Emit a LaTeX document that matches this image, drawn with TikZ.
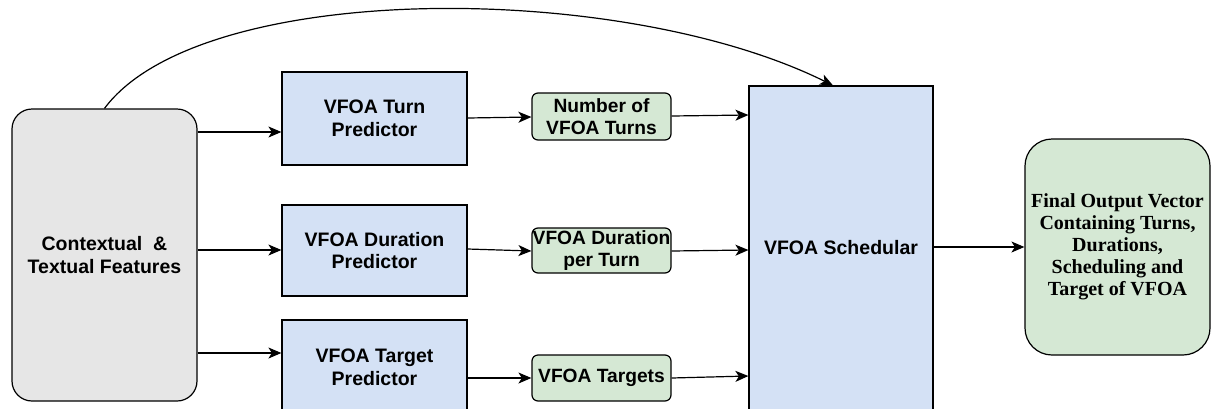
\documentclass[tikz,border=0pt]{standalone}
\usepackage{fontspec}
\setmainfont{Liberation Sans}
\newfontfamily\serifbf{Liberation Serif}
\usetikzlibrary{arrows.meta}
\definecolor{bluefill}{HTML}{D4E1F5}
\definecolor{greenfill}{HTML}{D5E8D4}
\definecolor{grayfill}{HTML}{E6E6E6}
\begin{document}
\begin{tikzpicture}[x=1pt,y=-1pt,
  box/.style={draw=black, line width=1.2pt, inner sep=0pt, align=center,
    font=\bfseries\fontsize{19.5}{22.7}\selectfont},
  predbox/.style={box, fill=bluefill, minimum width=185pt},
  outbox/.style={box, fill=greenfill, rounded corners=6pt, minimum width=139pt,
    font=\bfseries\fontsize{19.2}{22}\selectfont},
  arr/.style={line width=1.2pt, -{Stealth[length=13pt,width=11pt,inset=3.5pt]}}
]
\useasboundingbox (0,0) rectangle (1213,408);

\node[box, fill=grayfill, rounded corners=20pt, minimum width=185pt, minimum height=292pt]
  (ctx) at (104.5,255) {Contextual\ \ \&\\Textual Features};

\node[predbox, minimum height=93pt] (turn) at (374.5,118.5) {VFOA Turn\\Predictor};
\node[predbox, minimum height=91pt] (dur) at (374.5,250.5) {VFOA Duration\\Predictor};
\node[predbox, minimum height=94pt] (tgt) at (374.5,367) {VFOA Target\\Predictor};

\node[outbox, minimum height=47pt] (num) at (601.5,116.5) {Number of\\VFOA Turns};
\node[outbox, minimum height=45pt] (durt) at (601.5,250.5) {VFOA Duration\\per Turn};
\node[outbox, minimum height=46pt] (tgts) at (601.5,378) {VFOA Targets};

\node[box, fill=bluefill, minimum width=184pt, minimum height=324pt]
  (sched) at (841,248) {VFOA Schedular};

\node[box, fill=greenfill, rounded corners=27pt, minimum width=185pt, minimum height=216pt,
  font=\serifbf\bfseries\fontsize{20}{22}\selectfont]
  (final) at (1117.5,247) {Final Output Vector\\Containing Turns,\\Durations,\\ Scheduling and\\Target of VFOA};

\draw[arr] (ctx.east |- 0,132) -- (turn.west |- 0,132);
\draw[arr] (ctx.east |- 0,250) -- (dur.west |- 0,250);
\draw[arr] (ctx.east |- 0,353) -- (tgt.west |- 0,353);

\draw[arr] (turn.east |- 0,118) -- (num.west |- 0,117);
\draw[arr] (dur.east |- 0,249) -- (durt.west |- 0,251);
\draw[arr] (tgt.east |- 0,378) -- (tgts.west |- 0,378);

\draw[arr] (num.east |- 0,116) -- (sched.west |- 0,115);
\draw[arr] (durt.east |- 0,251) -- (sched.west |- 0,250);
\draw[arr] (tgts.east |- 0,378) -- (sched.west |- 0,376);

\draw[arr] (sched.east |- 0,247) -- (final.west |- 0,247);

\draw[arr] (ctx.north) .. controls (200,-20) and (620,-20) .. (sched.north -| 833,0);
\end{tikzpicture}
\end{document}
